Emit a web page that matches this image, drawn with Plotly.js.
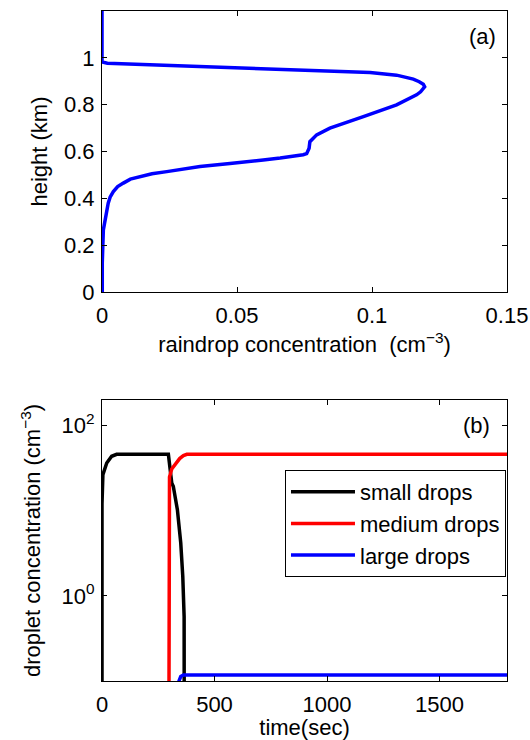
<!DOCTYPE html>
<html>
<head>
<meta charset="utf-8">
<script src="https://cdn.plot.ly/plotly-3.0.1.min.js"></script>
<style>html,body{margin:0;padding:0;background:#fff;}#chart{width:530px;height:740px;}</style>
</head>
<body>
<div id="chart"></div>
<script>
// Panel (a): raindrop concentration profile (ordered from top of domain downwards)
const rainConc = [0, 0, 0.002, 0.02, 0.0474, 0.0659, 0.0844, 0.0993, 0.1091, 0.1153, 0.1175, 0.1190, 0.1195, 0.1188, 0.1180, 0.1165, 0.1091, 0.0968, 0.0844, 0.0795, 0.0770, 0.0767, 0.0763, 0.0758, 0.0745, 0.0721, 0.0660, 0.0597, 0.0548, 0.0474, 0.0363, 0.0290, 0.0240, 0.0185, 0.0141, 0.0105, 0.0079, 0.0058, 0.0042, 0.0030, 0.0023, 0.0011, 0.0005, 0.0001, 0.0001];
const rainHeight = [1.2, 0.982, 0.977, 0.970, 0.960, 0.953, 0.946, 0.937, 0.926, 0.909, 0.898, 0.887, 0.876, 0.866, 0.855, 0.842, 0.799, 0.749, 0.700, 0.671, 0.642, 0.614, 0.600, 0.591, 0.586, 0.581, 0.572, 0.564, 0.557, 0.549, 0.536, 0.525, 0.514, 0.505, 0.493, 0.482, 0.465, 0.450, 0.429, 0.405, 0.379, 0.308, 0.265, 0.124, 0];

// Panel (b): droplet concentrations vs time
const smallTime = [0, 0, 4, 21, 43, 65, 295, 300, 310, 317, 335, 350, 359, 365, 366];
const smallConc = [0.001, 12, 26.5, 36.4, 43.6, 46, 46, 34, 21.2, 19.3, 10.3, 4.2, 1.69, 0.57, 0.001];
const mediumTime = [296, 297, 298, 300, 310, 325, 345, 362, 377, 1800];
const mediumConc = [0.001, 5, 14, 25, 31, 35, 41, 44.4, 46, 46];
const largeTime = [340, 342, 350, 362, 1800];
const largeConc = [0.05, 0.1, 0.113, 0.118, 0.118];

const xTicksA = [0, 0.05, 0.1, 0.15];
const xTickTextA = ["0", "0.05", "0.1", "0.15"];
const yTicksA = [0, 0.2, 0.4, 0.6, 0.8, 1];
const yTickTextA = ["0", "0.2", "0.4", "0.6", "0.8", "1"];
const xTicksB = [0, 500, 1000, 1500];
const yTicksB = [1, 100];
const yTickTextB = ["10<sup>0</sup>", "10<sup>2</sup>"];

const fontFam = "Liberation Sans, Arial, Helvetica, sans-serif";
const FS = 22;
const axisCommon = {
  showgrid: false, zeroline: false, showline: true, linecolor: "#000", linewidth: 1,
  mirror: "ticks", ticks: "inside", ticklen: 5, tickcolor: "#000", tickwidth: 1,
  tickfont: {family: fontFam, size: FS, color: "#000"}
};

const traces = [
  {x: rainConc, y: rainHeight, xaxis: "x", yaxis: "y", mode: "lines", line: {color: "#0000ff", width: 3.5}, showlegend: false},
  {x: smallTime, y: smallConc, xaxis: "x2", yaxis: "y2", mode: "lines", name: "small drops", line: {color: "#000000", width: 3.5}},
  {x: mediumTime, y: mediumConc, xaxis: "x2", yaxis: "y2", mode: "lines", name: "medium drops", line: {color: "#ff0000", width: 3.5}},
  {x: largeTime, y: largeConc, xaxis: "x2", yaxis: "y2", mode: "lines", name: "large drops", line: {color: "#0000ff", width: 3.5}}
];

const layout = {
  width: 530, height: 740,
  margin: {l: 102, r: 23, t: 11, b: 59},
  paper_bgcolor: "#fff", plot_bgcolor: "#fff",
  font: {family: fontFam, size: FS, color: "#000"},
  xaxis: Object.assign({}, axisCommon, {domain: [0, 1], range: [0, 0.15], anchor: "y",
    tickvals: xTicksA, ticktext: xTickTextA, ticklabelstandoff: 4,
    title: {text: "raindrop concentration  (cm<sup>\u22123</sup>)", font: {family: fontFam, size: FS}, standoff: 9}}),
  yaxis: Object.assign({}, axisCommon, {domain: [0.5806, 1], range: [0, 1.2], anchor: "x",
    tickvals: yTicksA, ticktext: yTickTextA, ticklabelstandoff: 2,
    title: {text: "height (km)", font: {family: fontFam, size: FS}, standoff: 10}}),
  xaxis2: Object.assign({}, axisCommon, {domain: [0, 1], range: [0, 1800], anchor: "y2",
    tickvals: xTicksB, ticklabelstandoff: 4,
    title: {text: "time(sec)", font: {family: fontFam, size: FS}, standoff: 1}}),
  yaxis2: Object.assign({}, axisCommon, {domain: [0, 0.4194], type: "log", range: [-1, Math.log10(200)], anchor: "x2",
    tickvals: yTicksB, ticktext: yTickTextB, ticklabelstandoff: 2,
    title: {text: "droplet concentration (cm<sup>\u22123</sup>)", font: {family: fontFam, size: FS}, standoff: 14}}),
  legend: {x: 0.9975, xanchor: "right", y: 0.3149, yanchor: "top", bordercolor: "#000", borderwidth: 1,
    bgcolor: "#fff", font: {family: fontFam, size: FS, color: "#000"}, tracegroupgap: 0, itemwidth: 64,
    entrywidth: 225, entrywidthmode: "pixels"},
  annotations: [
    {text: "(a)", xref: "paper", yref: "paper", x: 0.94, y: 0.9616, xanchor: "center", yanchor: "middle", showarrow: false, font: {family: fontFam, size: FS}},
    {text: "(b)", xref: "paper", yref: "paper", x: 0.925, y: 0.382, xanchor: "center", yanchor: "middle", showarrow: false, font: {family: fontFam, size: FS}}
  ],
  showlegend: true
};

Plotly.newPlot("chart", traces, layout, {staticPlot: true, displayModeBar: false});
</script>
</body>
</html>
